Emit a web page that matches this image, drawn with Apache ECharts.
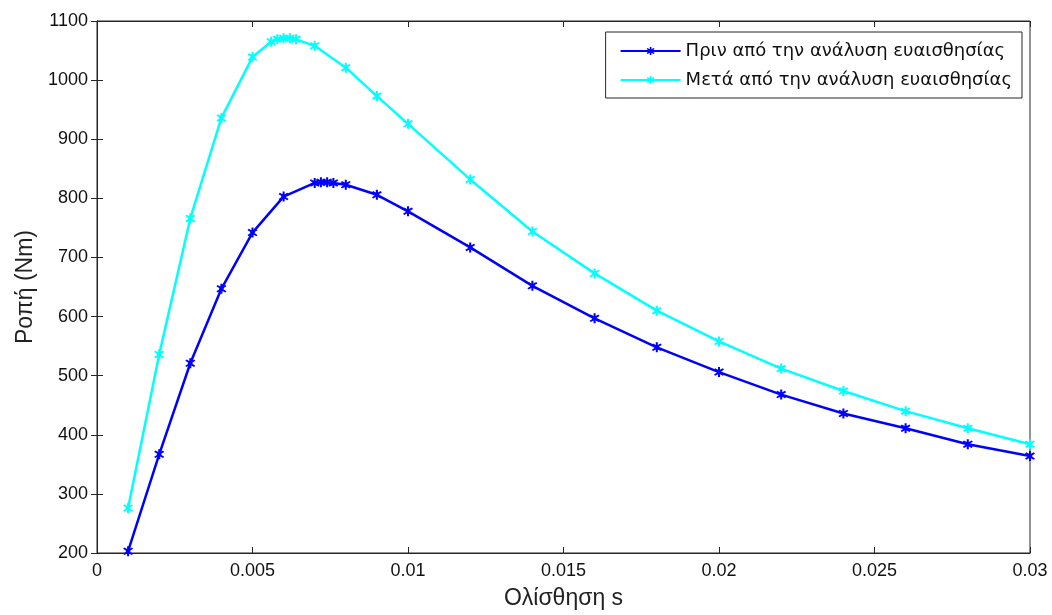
<!DOCTYPE html>
<html>
<head>
<meta charset="utf-8">
<script src="https://cdn.jsdelivr.net/npm/echarts@6/dist/echarts.min.js"></script>
<style>html,body{margin:0;padding:0;background:#fff}#c{width:1052px;height:615px}</style>
</head>
<body>
<div id="c"></div>
<script>
var seriesNames = ['Πριν από την ανάλυση ευαισθησίας', 'Μετά από την ανάλυση ευαισθησίας'];
var beforeSlip = [0.001,0.002,0.003,0.004,0.005,0.006,0.007,0.0072,0.0074,0.0076,0.008,0.009,0.01,0.012,0.014,0.016,0.018,0.02,0.022,0.024,0.026,0.028,0.03];
var beforeTorque = [203,367,521,647,742,803,826,827,827,826,823,806,778,717,652,597,548,506,468,436,411,384,364];
var afterSlip = [0.001,0.002,0.003,0.004,0.005,0.0056,0.0058,0.006,0.0062,0.0064,0.007,0.008,0.009,0.01,0.012,0.014,0.016,0.018,0.02,0.022,0.024,0.026,0.028,0.03];
var afterTorque = [276,536,766,936,1039,1065,1069,1071,1071,1069,1058,1021,973,926,832,744,673,610,558,512,474,440,411,384];
var xTickLabels = ['0','0.005','0.01','0.015','0.02','0.025','0.03'];
var yTickLabels = ['200','300','400','500','600','700','800','900','1000','1100'];

function pairs(xs, ys){ return xs.map(function(x,i){ return [x, ys[i]]; }); }

var star = 'path://M-1.6,-10 L1.6,-10 L1.6,-4.5 L6,-7.5 L7.8,-4.8 L3.6,-1.5 L3.6,1.5 L7.8,4.8 L6,7.5 L1.6,4.5 L1.6,10 L-1.6,10 L-1.6,4.5 L-6,7.5 L-7.8,4.8 L-3.6,1.5 L-3.6,-1.5 L-7.8,-4.8 L-6,-7.5 L-1.6,-4.5 Z';
var font = 'Liberation Sans, Arial, sans-serif';

var chart = echarts.init(document.getElementById('c'), null, {renderer:'canvas'});
var axisLineStyle = {color:'#262626', width:1};
chart.setOption({
  animation:false,
  backgroundColor:'#fff',
  grid:{left:97, right:22, top:21, bottom:61, show:true, borderColor:'#262626', borderWidth:1},
  legend:{
    data:seriesNames,
    orient:'vertical',
    right:30, top:32,
    itemWidth:60, itemHeight:10, itemGap:11,
    backgroundColor:'#fff', borderColor:'#262626', borderWidth:1,
    padding:[10,10,9,14],
    textStyle:{fontFamily:'DejaVu Sans, sans-serif', fontSize:18, color:'#111'}
  },
  xAxis:[{
    type:'value', min:0, max:0.03, interval:0.005,
    name:'Ολίσθηση s', nameLocation:'middle', nameGap:34,
    nameTextStyle:{fontFamily:font, fontSize:23, color:'#222'},
    axisLine:{show:true, lineStyle:axisLineStyle},
    axisTick:{show:true, inside:true, length:6, lineStyle:axisLineStyle},
    axisLabel:{fontFamily:font, fontSize:18, color:'#111', margin:9,
      formatter:function(v){ var i=Math.round(v/0.005); return xTickLabels[i]; }},
    splitLine:{show:false}
  },{
    type:'value', min:0, max:0.03, interval:0.005, position:'top',
    axisLine:{show:true, lineStyle:axisLineStyle},
    axisTick:{show:true, inside:true, length:6, lineStyle:axisLineStyle},
    axisLabel:{show:false}, splitLine:{show:false}
  }],
  yAxis:[{
    type:'value', min:200, max:1100, interval:100,
    name:'Ροπή (Nm)', nameLocation:'middle', nameGap:57, nameRotate:90,
    nameTextStyle:{fontFamily:font, fontSize:23, color:'#222'},
    axisLine:{show:true, lineStyle:axisLineStyle},
    axisTick:{show:true, inside:true, length:6, lineStyle:axisLineStyle},
    axisLabel:{fontFamily:font, fontSize:18, color:'#111', margin:9,
      formatter:function(v){ return yTickLabels[Math.round((v-200)/100)]; }},
    splitLine:{show:false}
  },{
    type:'value', min:200, max:1100, interval:100, position:'right',
    axisLine:{show:true, lineStyle:axisLineStyle},
    axisTick:{show:true, inside:true, length:6, lineStyle:axisLineStyle},
    axisLabel:{show:false}, splitLine:{show:false}
  }],
  series:[{
    name:seriesNames[0], type:'line', data:pairs(beforeSlip, beforeTorque),
    symbol:star, symbolSize:10, showAllSymbol:true,
    lineStyle:{color:'#0000ff', width:2.5}, itemStyle:{color:'#0000ff'}
  },{
    name:seriesNames[1], type:'line', data:pairs(afterSlip, afterTorque),
    symbol:star, symbolSize:10, showAllSymbol:true,
    lineStyle:{color:'#00ffff', width:2.5}, itemStyle:{color:'#00ffff'}
  }]
});
</script>
</body>
</html>
